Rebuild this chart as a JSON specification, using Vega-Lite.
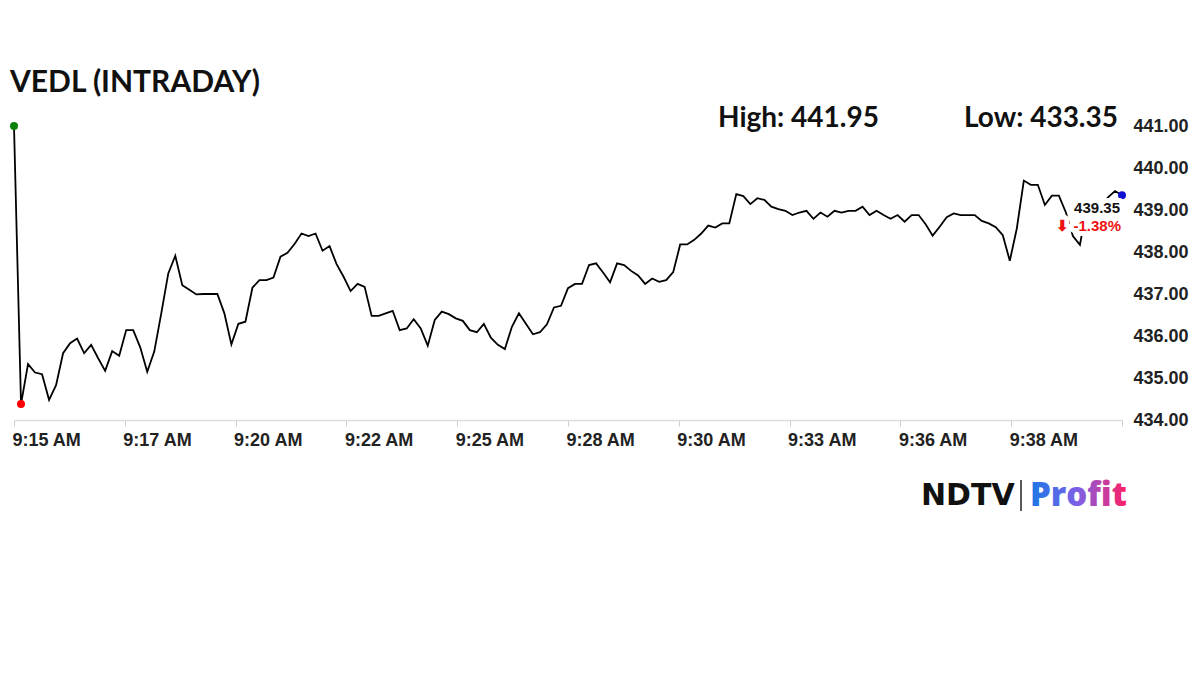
{
  "$schema": "https://vega.github.io/schema/vega-lite/v6.json",
  "width": 1108,
  "height": 294,
  "autosize": {"type": "none"},
  "padding": {"left": 14, "top": 126, "right": 78, "bottom": 255},
  "background": "white",
  "title": {"text": "VEDL (INTRADAY)", "anchor": "start", "frame": "group", "font": "Lato", "fontSize": 30, "fontWeight": "bold", "color": "#111111", "dx": -4, "offset": -17, "baseline": "alphabetic"},
  "config": {"view": {"stroke": null}, "font": "Liberation Sans"},
  "data": {"values": [
    {"i":0,"price":441.00},{"i":1,"price":434.38},{"i":2,"price":435.33},{"i":3,"price":435.13},{"i":4,"price":435.09},
    {"i":5,"price":434.48},{"i":6,"price":434.83},{"i":7,"price":435.59},{"i":8,"price":435.83},{"i":9,"price":435.94},
    {"i":10,"price":435.59},{"i":11,"price":435.79},{"i":12,"price":435.47},{"i":13,"price":435.17},{"i":14,"price":435.64},
    {"i":15,"price":435.53},{"i":16,"price":436.14},{"i":17,"price":436.14},{"i":18,"price":435.73},{"i":19,"price":435.15},
    {"i":20,"price":435.63},{"i":21,"price":436.54},{"i":22,"price":437.49},{"i":23,"price":437.91},{"i":24,"price":437.21},
    {"i":25,"price":437.10},{"i":26,"price":436.99},{"i":27,"price":437.00},{"i":28,"price":437.00},{"i":29,"price":437.00},
    {"i":30,"price":436.54},{"i":31,"price":435.80},{"i":32,"price":436.29},{"i":33,"price":436.34},{"i":34,"price":437.15},
    {"i":35,"price":437.33},{"i":36,"price":437.33},{"i":37,"price":437.39},{"i":38,"price":437.89},{"i":39,"price":437.98},
    {"i":40,"price":438.19},{"i":41,"price":438.44},{"i":42,"price":438.38},{"i":43,"price":438.44},{"i":44,"price":438.03},
    {"i":45,"price":438.14},{"i":46,"price":437.71},{"i":47,"price":437.41},{"i":48,"price":437.07},{"i":49,"price":437.24},
    {"i":50,"price":437.17},{"i":51,"price":436.48},{"i":52,"price":436.48},{"i":53,"price":436.54},{"i":54,"price":436.60},
    {"i":55,"price":436.14},{"i":56,"price":436.18},{"i":57,"price":436.40},{"i":58,"price":436.18},{"i":59,"price":435.77},
    {"i":60,"price":436.38},{"i":61,"price":436.58},{"i":62,"price":436.52},{"i":63,"price":436.42},{"i":64,"price":436.36},
    {"i":65,"price":436.14},{"i":66,"price":436.09},{"i":67,"price":436.29},{"i":68,"price":435.96},{"i":69,"price":435.79},
    {"i":70,"price":435.69},{"i":71,"price":436.22},{"i":72,"price":436.54},{"i":73,"price":436.29},{"i":74,"price":436.04},
    {"i":75,"price":436.09},{"i":76,"price":436.28},{"i":77,"price":436.68},{"i":78,"price":436.72},{"i":79,"price":437.14},
    {"i":80,"price":437.24},{"i":81,"price":437.24},{"i":82,"price":437.69},{"i":83,"price":437.73},{"i":84,"price":437.51},
    {"i":85,"price":437.28},{"i":86,"price":437.73},{"i":87,"price":437.69},{"i":88,"price":437.55},{"i":89,"price":437.44},
    {"i":90,"price":437.24},{"i":91,"price":437.37},{"i":92,"price":437.29},{"i":93,"price":437.33},{"i":94,"price":437.52},
    {"i":95,"price":438.18},{"i":96,"price":438.18},{"i":97,"price":438.29},{"i":98,"price":438.44},{"i":99,"price":438.63},
    {"i":100,"price":438.58},{"i":101,"price":438.68},{"i":102,"price":438.68},{"i":103,"price":439.38},{"i":104,"price":439.33},
    {"i":105,"price":439.14},{"i":106,"price":439.28},{"i":107,"price":439.24},{"i":108,"price":439.08},{"i":109,"price":439.02},
    {"i":110,"price":438.98},{"i":111,"price":438.88},{"i":112,"price":438.94},{"i":113,"price":438.98},{"i":114,"price":438.79},
    {"i":115,"price":438.94},{"i":116,"price":438.84},{"i":117,"price":438.98},{"i":118,"price":438.94},{"i":119,"price":438.98},
    {"i":120,"price":438.98},{"i":121,"price":439.08},{"i":122,"price":438.88},{"i":123,"price":438.98},{"i":124,"price":438.88},
    {"i":125,"price":438.79},{"i":126,"price":438.88},{"i":127,"price":438.72},{"i":128,"price":438.88},{"i":129,"price":438.88},
    {"i":130,"price":438.66},{"i":131,"price":438.39},{"i":132,"price":438.60},{"i":133,"price":438.83},{"i":134,"price":438.92},
    {"i":135,"price":438.88},{"i":136,"price":438.88},{"i":137,"price":438.88},{"i":138,"price":438.74},{"i":139,"price":438.68},
    {"i":140,"price":438.59},{"i":141,"price":438.40},{"i":142,"price":437.79},{"i":143,"price":438.56},{"i":144,"price":439.70},
    {"i":145,"price":439.60},{"i":146,"price":439.60},{"i":147,"price":439.12},{"i":148,"price":439.34},{"i":149,"price":439.34},
    {"i":150,"price":438.94},{"i":151,"price":438.38},{"i":152,"price":438.17},{"i":153,"price":439.10},{"i":154,"price":439.20},
    {"i":155,"price":439.10},{"i":156,"price":439.30},{"i":157,"price":439.45},{"i":158,"price":439.35}
  ]},
  "layer": [
    {
      "mark": {"type": "line", "color": "#000000", "strokeWidth": 1.8, "clip": false},
      "encoding": {
        "x": {"field": "i", "type": "quantitative",
          "scale": {"domain": [0, 158], "nice": false, "zero": false},
          "axis": {"orient": "bottom", "title": null, "grid": false,
            "values": [0, 15.8, 31.6, 47.4, 63.2, 79, 94.8, 110.6, 126.4, 142.2, 158],
            "labelExpr": "['9:15 AM','9:17 AM','9:20 AM','9:22 AM','9:25 AM','9:28 AM','9:30 AM','9:33 AM','9:36 AM','9:38 AM',''][round(datum.value/15.8)]",
            "domainColor": "#dddddd", "domainWidth": 1.5, "tickColor": "#cccccc", "tickSize": 6,
            "labelAlign": "left", "labelFlush": false, "labelOverlap": false, "labelBound": false, "labelOffset": -2,
            "labelFont": "Liberation Sans", "labelFontSize": 18, "labelFontWeight": "bold", "labelColor": "#222222", "labelPadding": 5}},
        "y": {"field": "price", "type": "quantitative",
          "scale": {"domain": [434, 441], "nice": false, "zero": false},
          "axis": {"orient": "right", "title": null, "grid": false, "domain": false, "ticks": false,
            "values": [434, 435, 436, 437, 438, 439, 440, 441], "format": ".2f",
            "labelFont": "Liberation Sans", "labelFontSize": 18, "labelFontWeight": "bold", "labelColor": "#222222", "labelPadding": 11}}
      }
    },
    {
      "transform": [{"filter": "datum.i == 0 || datum.i == 1 || datum.i == 158"}],
      "mark": {"type": "point", "filled": true, "size": 64, "opacity": 1},
      "encoding": {
        "x": {"field": "i", "type": "quantitative"},
        "y": {"field": "price", "type": "quantitative"},
        "color": {"condition": [{"test": "datum.i == 0", "value": "#0a800a"}, {"test": "datum.i == 1", "value": "#ff0000"}], "value": "#1010d0"}
      }
    },
    {
      "transform": [{"filter": "datum.i == 158"}],
      "mark": {"type": "text", "align": "right", "baseline": "alphabetic", "dx": -2, "dy": 18, "font": "Liberation Sans", "fontSize": 15, "fontWeight": "bold", "fill": "white", "stroke": "white", "strokeWidth": 10, "strokeJoin": "round"},
      "encoding": {
        "x": {"field": "i", "type": "quantitative"},
        "y": {"field": "price", "type": "quantitative"},
        "text": {"field": "price", "type": "quantitative", "format": ".2f"}
      }
    },
    {
      "data": {"values": [{"change": "⬇ -1.38%"}]},
      "mark": {"type": "text", "align": "right", "baseline": "alphabetic", "dx": -1, "dy": 36, "font": "Liberation Sans", "fontSize": 15, "fontWeight": "bold", "fill": "white", "stroke": "white", "strokeWidth": 10, "strokeJoin": "round"},
      "encoding": {
        "x": {"datum": 158, "type": "quantitative"},
        "y": {"datum": 439.35, "type": "quantitative"},
        "text": {"field": "change", "type": "nominal"}
      }
    },
    {
      "transform": [{"filter": "datum.i == 158"}],
      "mark": {"type": "text", "align": "right", "baseline": "alphabetic", "dx": -2, "dy": 18, "font": "Liberation Sans", "fontSize": 15, "fontWeight": "bold", "color": "#111111"},
      "encoding": {
        "x": {"field": "i", "type": "quantitative"},
        "y": {"field": "price", "type": "quantitative"},
        "text": {"field": "price", "type": "quantitative", "format": ".2f"}
      }
    },
    {
      "data": {"values": [{"change": "⬇ -1.38%"}]},
      "mark": {"type": "text", "align": "right", "baseline": "alphabetic", "dx": -1, "dy": 36, "font": "Liberation Sans", "fontSize": 15, "fontWeight": "bold", "color": "#ee1111"},
      "encoding": {
        "x": {"datum": 158, "type": "quantitative"},
        "y": {"datum": 439.35, "type": "quantitative"},
        "text": {"field": "change", "type": "nominal"}
      }
    },
    {
      "data": {"values": [{"label": "High: 441.95"}]},
      "mark": {"type": "text", "align": "left", "baseline": "alphabetic", "font": "Lato", "fontSize": 28, "fontWeight": "bold", "color": "#111111"},
      "encoding": {
        "x": {"datum": 100.39, "type": "quantitative"},
        "y": {"datum": 440.976, "type": "quantitative"},
        "text": {"field": "label", "type": "nominal"}
      }
    },
    {
      "data": {"values": [{"label": "Low: 433.35"}]},
      "mark": {"type": "text", "align": "left", "baseline": "alphabetic", "font": "Lato", "fontSize": 28, "fontWeight": "bold", "color": "#111111"},
      "encoding": {
        "x": {"datum": 135.47, "type": "quantitative"},
        "y": {"datum": 440.976, "type": "quantitative"},
        "text": {"field": "label", "type": "nominal"}
      }
    },
    {
      "data": {"values": [{"brand": "NDTV"}]},
      "mark": {"type": "text", "align": "left", "baseline": "alphabetic", "font": "DejaVu Sans", "fontSize": 30, "fontWeight": "bold", "color": "#111111"},
      "encoding": {
        "x": {"datum": 129.34, "type": "quantitative"},
        "y": {"datum": 431.976, "type": "quantitative"},
        "text": {"field": "brand", "type": "nominal"}
      }
    },
    {
      "data": {"values": [{"brand": "divider"}]},
      "mark": {"type": "rule", "color": "#222222", "strokeWidth": 1.5},
      "encoding": {
        "x": {"datum": 143.6, "type": "quantitative"},
        "y": {"datum": 432.571, "type": "quantitative"},
        "y2": {"datum": 431.833}
      }
    },
    {
      "data": {"values": [{"brand": "Profit"}]},
      "mark": {"type": "text", "align": "left", "baseline": "alphabetic", "font": "Open Sans", "fontSize": 33, "fontWeight": 800,
        "fill": {"gradient": "linear", "x1": 0, "y1": 0, "x2": 1, "y2": 0, "stops": [{"offset": 0, "color": "#1a78e6"}, {"offset": 0.5, "color": "#7f5fe6"}, {"offset": 1, "color": "#ff1f63"}]}},
      "encoding": {
        "x": {"datum": 144.88, "type": "quantitative"},
        "y": {"datum": 431.95, "type": "quantitative"},
        "text": {"field": "brand", "type": "nominal"}
      }
    }
  ]
}
